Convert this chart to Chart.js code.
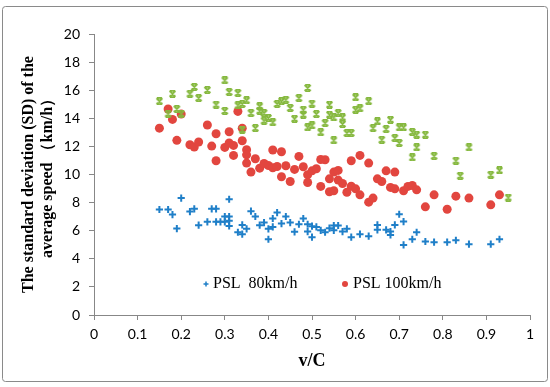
<!DOCTYPE html>
<html>
<head>
<meta charset="utf-8">
<script src="https://cdn.jsdelivr.net/npm/chart.js@4.4.1/dist/chart.umd.min.js"></script>
<style>
  html, body { margin: 0; padding: 0; background: #fff; }
  #wrap { width: 550px; height: 387px; }
</style>
</head>
<body>
<div id="wrap"><canvas id="chart" width="550" height="387"></canvas></div>
<script>
// ---- data (v/C vs SD of average speed) ----
const xTickLabels = ['0', '0.1', '0.2', '0.3', '0.4', '0.5', '0.6', '0.7', '0.8', '0.9', '1'];
const yTickLabels = ['0', '2', '4', '6', '8', '10', '12', '14', '16', '18', '20'];

// PSL 80km/h
const psl80X = [
    0.15, 0.17, 0.18, 0.19, 0.20, 0.22, 0.23, 0.24, 0.26, 0.27,
    0.28, 0.28, 0.29, 0.30, 0.30, 0.31, 0.31, 0.31, 0.31, 0.33,
    0.34, 0.34, 0.35, 0.36, 0.37, 0.38, 0.39, 0.40, 0.40, 0.41,
    0.41, 0.42, 0.43, 0.44, 0.45, 0.46, 0.47, 0.48, 0.49, 0.49,
    0.50, 0.50, 0.51, 0.52, 0.53, 0.54, 0.55, 0.55, 0.56, 0.57,
    0.58, 0.59, 0.61, 0.63, 0.65, 0.65, 0.67, 0.68, 0.68, 0.69,
    0.70, 0.71, 0.71, 0.73, 0.74, 0.76, 0.78, 0.81, 0.83, 0.86,
    0.91, 0.93
];
const psl80Y = [
    7.51, 7.51, 7.15, 6.15, 8.32, 7.36, 7.56, 6.39, 6.63, 7.56,
    7.56, 6.63, 6.63, 6.63, 7.01, 8.24, 7.01, 6.70, 6.34, 5.89,
    6.41, 5.75, 6.13, 7.39, 7.01, 6.39, 6.58, 6.13, 5.39, 6.87,
    6.27, 7.29, 6.51, 7.01, 6.58, 5.92, 6.46, 6.87, 6.46, 5.94,
    6.32, 5.54, 6.27, 6.03, 5.89, 6.18, 6.37, 6.03, 6.37, 5.94,
    6.13, 5.54, 5.75, 5.61, 6.41, 6.06, 6.06, 5.94, 5.70, 6.41,
    7.17, 6.65, 4.99, 5.39, 5.89, 5.23, 5.18, 5.18, 5.32, 5.04,
    5.04, 5.39
];

// PSL 100km/h
const psl100X = [
    0.15, 0.17, 0.18, 0.20, 0.19, 0.22, 0.23, 0.24, 0.26, 0.27,
    0.28, 0.28, 0.30, 0.31, 0.31, 0.32, 0.32, 0.33, 0.34, 0.34,
    0.35, 0.35, 0.35, 0.36, 0.37, 0.38, 0.39, 0.40, 0.41, 0.42,
    0.41, 0.43, 0.43, 0.44, 0.45, 0.46, 0.47, 0.48, 0.49, 0.49,
    0.50, 0.51, 0.52, 0.53, 0.52, 0.54, 0.54, 0.55, 0.55, 0.56,
    0.56, 0.59, 0.61, 0.63, 0.57, 0.59, 0.60, 0.58, 0.61, 0.63,
    0.64, 0.65, 0.66, 0.67, 0.69, 0.68, 0.69, 0.71, 0.72, 0.73,
    0.74, 0.76, 0.78, 0.81, 0.83, 0.86, 0.91, 0.93
];
const psl100Y = [
    13.30, 14.66, 13.92, 14.30, 12.43, 12.12, 11.95, 12.31, 13.52, 12.02,
    12.90, 10.98, 11.93, 13.04, 12.24, 12.07, 11.36, 14.49, 13.30, 12.40,
    11.76, 11.40, 10.81, 10.17, 11.12, 10.45, 10.79, 10.64, 10.48, 10.57,
    11.74, 11.62, 9.84, 10.62, 9.50, 10.36, 11.29, 10.55, 9.98, 9.43,
    10.26, 10.41, 11.07, 11.05, 9.15, 9.69, 8.77, 10.17, 8.84, 9.60,
    10.29, 10.98, 11.36, 10.81, 9.36, 9.17, 8.98, 8.74, 8.55, 8.03,
    8.32, 9.69, 9.50, 10.26, 10.17, 9.08, 8.98, 8.84, 9.15, 9.22,
    8.91, 7.70, 8.55, 7.53, 8.46, 8.32, 7.84, 8.55
];

// third series (green, no legend entry in the figure)
const psl120X = [
    0.15, 0.18, 0.19, 0.17, 0.20, 0.22, 0.23, 0.24, 0.26, 0.28,
    0.30, 0.31, 0.30, 0.33, 0.33, 0.34, 0.35, 0.36, 0.38, 0.38,
    0.39, 0.40, 0.39, 0.41, 0.37, 0.34, 0.42, 0.43, 0.44, 0.45,
    0.46, 0.47, 0.48, 0.48, 0.49, 0.50, 0.49, 0.50, 0.51, 0.53,
    0.52, 0.54, 0.54, 0.55, 0.55, 0.56, 0.60, 0.63, 0.60, 0.61,
    0.57, 0.57, 0.58, 0.59, 0.65, 0.68, 0.64, 0.67, 0.70, 0.71,
    0.66, 0.69, 0.70, 0.73, 0.74, 0.76, 0.74, 0.73, 0.78, 0.86,
    0.83, 0.84, 0.91, 0.93, 0.95
];
const psl120Y = [
    15.21, 15.75, 14.66, 14.33, 14.33, 15.75, 16.23, 15.44, 16.01, 14.97,
    16.70, 15.87, 14.52, 15.80, 14.92, 15.02, 15.28, 14.37, 14.85, 14.54,
    14.37, 14.02, 13.83, 13.71, 13.30, 13.19, 15.02, 15.21, 15.32, 14.73,
    13.97, 15.44, 14.61, 14.26, 16.16, 15.04, 13.35, 13.49, 14.30, 13.66,
    13.00, 14.97, 14.26, 14.06, 12.43, 14.37, 15.49, 15.21, 14.61, 14.71,
    14.06, 13.59, 12.95, 12.95, 13.78, 13.90, 13.30, 13.23, 13.35, 13.35,
    12.47, 12.59, 12.24, 13.02, 12.83, 12.83, 11.93, 11.21, 11.31, 11.93,
    10.98, 9.91, 9.98, 10.29, 8.36
];

const BLUE = '#1f7fc8';
const RED = '#e2463f';
const GREEN = '#85b83e';

const pts = (xs, ys) => xs.map((x, i) => ({ x, y: ys[i] }));

// hourglass-like x marker used by the green series
function hourglass(color) {
    const c = document.createElement('canvas');
    c.width = 9; c.height = 8;
    const g = c.getContext('2d');
    g.strokeStyle = color;
    g.lineWidth = 1.8;
    g.beginPath();
    g.moveTo(1.5, 1); g.lineTo(7.5, 7);
    g.moveTo(7.5, 1); g.lineTo(1.5, 7);
    g.moveTo(2, 0.9); g.lineTo(7, 0.9);
    g.moveTo(2, 7.1); g.lineTo(7, 7.1);
    g.stroke();
    return c;
}

// white background + grey frame round the whole figure
const framePlugin = {
    id: 'frame',
    beforeDraw(chart) {
        const ctx = chart.ctx;
        ctx.save();
        ctx.fillStyle = '#fff';
        ctx.fillRect(0, 0, chart.width, chart.height);
        ctx.strokeStyle = '#8a8a8a';
        ctx.lineWidth = 1;
        ctx.beginPath();
        ctx.roundRect(2.5, 6.5, 545, 375, 3);
        ctx.stroke();
        ctx.restore();
    }
};

// legend drawn inside the plot, only the two labelled series
const insideLegend = {
    id: 'insideLegend',
    afterDraw(chart) {
        const ctx = chart.ctx;
        const a = chart.chartArea;
        const y = a.bottom - 31;
        ctx.save();
        ctx.font = '16px "Liberation Serif", "Times New Roman", serif';
        ctx.textBaseline = 'middle';
        ctx.fillStyle = '#000';
        // plus marker
        let mx = a.left + 112;
        ctx.strokeStyle = BLUE; ctx.lineWidth = 1.5;
        ctx.beginPath();
        ctx.moveTo(mx - 2.5, y); ctx.lineTo(mx + 2.5, y);
        ctx.moveTo(mx, y - 2.5); ctx.lineTo(mx, y + 2.5);
        ctx.stroke();
        ctx.fillText(chart.data.datasets[0].label, mx + 7, y);
        // dot marker
        mx = a.left + 251;
        ctx.fillStyle = RED;
        ctx.beginPath(); ctx.arc(mx, y, 3, 0, Math.PI * 2); ctx.fill();
        ctx.fillStyle = '#000';
        ctx.fillText(chart.data.datasets[1].label, mx + 8, y);
        ctx.restore();
    }
};

const tickFont = { family: 'Lato, "Open Sans", sans-serif', size: 14 };
const axisGrey = '#878787';

new Chart(document.getElementById('chart'), {
    type: 'scatter',
    data: {
        datasets: [
            {
                label: 'PSL  80km/h', data: pts(psl80X, psl80Y), order: 2,
                pointStyle: 'cross', pointRadius: 3.6, borderWidth: 2,
                borderColor: BLUE, backgroundColor: BLUE
            },
            {
                label: 'PSL 100km/h', data: pts(psl100X, psl100Y), order: 1,
                pointStyle: 'circle', pointRadius: 4.5, borderWidth: 0,
                borderColor: RED, backgroundColor: RED
            },
            {
                label: 'PSL 120km/h', data: pts(psl120X, psl120Y), order: 0,
                pointStyle: hourglass(GREEN), pointRadius: 4,
                borderColor: GREEN, backgroundColor: GREEN
            }
        ]
    },
    options: {
        responsive: false,
        animation: false,
        layout: { padding: { left: 0, right: 20, top: 34, bottom: 0 } },
        plugins: { legend: { display: false }, tooltip: { enabled: false } },
        scales: {
            x: {
                type: 'linear', min: 0, max: 1,
                afterFit: s => { s.height = 72; },
                border: { color: axisGrey, width: 1 },
                grid: { drawOnChartArea: false, color: axisGrey, tickLength: 5 },
                ticks: {
                    stepSize: 0.1, padding: 6, color: '#000', font: tickFont,
                    maxRotation: 0, autoSkip: false,
                    callback: (v, i) => xTickLabels[i]
                },
                title: {
                    display: true, text: 'v/C', color: '#000',
                    font: { family: '"Liberation Serif", "Times New Roman", serif', size: 18, weight: 'bold' },
                    padding: { top: 0, bottom: 15 }
                }
            },
            y: {
                min: 0, max: 20,
                afterFit: s => { s.width = 94; },
                border: { color: axisGrey, width: 1 },
                grid: { drawOnChartArea: false, color: axisGrey, tickLength: 5 },
                ticks: {
                    stepSize: 2, padding: 9, color: '#000', font: tickFont,
                    callback: (v, i) => yTickLabels[i]
                },
                title: {
                    display: true,
                    text: ['The standard deviation (SD) of the', 'average speed （km/h）'],
                    color: '#000',
                    font: { family: '"Liberation Serif", "Times New Roman", serif', size: 16, weight: 'bold', lineHeight: 1.15 },
                    padding: { top: 20, bottom: 0 }
                }
            }
        }
    },
    plugins: [framePlugin, insideLegend]
});
</script>
</body>
</html>
